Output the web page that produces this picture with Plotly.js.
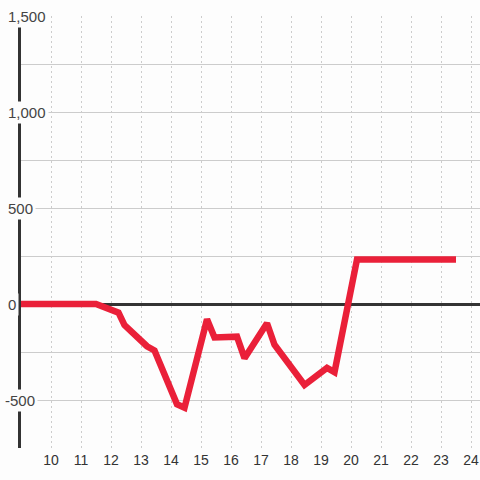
<!DOCTYPE html>
<html>
<head>
<meta charset="utf-8">
<script src="https://cdn.plot.ly/plotly-3.0.1.min.js"></script>
<style>html,body{margin:0;padding:0;background:#fdfdfd;}#chart{width:480px;height:480px;}</style>
</head>
<body>
<div id="chart"></div>
<script>
var xValues = [8.75, 11.5, 12.25, 12.45, 13.2, 13.45, 14.2, 14.45, 15.2, 15.45, 16.2, 16.45, 17.2, 17.45, 18.45, 19.2, 19.45, 20.2, 23.5];
var yValues = [0, 0, -45, -110, -220, -242, -522, -540, -80, -174, -170, -282, -100, -212, -422, -333, -355, 232, 232];
var xTickVals = [10, 11, 12, 13, 14, 15, 16, 17, 18, 19, 20, 21, 22, 23, 24];
var yTickVals = [-500, 0, 500, 1000, 1500];
var yTickText = ['-500', '0', '500', '1,000', '1,500'];

var bg = '#fdfdfd';
var annotations = yTickVals.map(function (v, i) {
  var neg = yTickText[i].charAt(0) === '-';
  return {
    xref: 'paper', yref: 'y', x: 0, y: v,
    xanchor: 'left', yanchor: 'middle',
    xshift: neg ? -19 : -16,
    text: yTickText[i], showarrow: false,
    bgcolor: bg, borderpad: 2,
    font: {family: 'Liberation Sans, Arial, sans-serif', size: 15, color: '#444'}
  };
});

var trace = {
  x: xValues, y: yValues, type: 'scatter', mode: 'lines',
  line: {color: '#ea2039', width: 6.5},
  cliponaxis: false, hoverinfo: 'skip'
};

var layout = {
  width: 480, height: 480,
  margin: {l: 21, r: 0, t: 16, b: 32},
  paper_bgcolor: bg, plot_bgcolor: bg,
  showlegend: false,
  xaxis: {
    range: [9, 24.3], tickmode: 'array', tickvals: xTickVals,
    showgrid: true, gridcolor: '#cccccc', gridwidth: 1, griddash: '2px,3px',
    zeroline: false, showline: false, ticks: '', ticklabelstandoff: 2,
    tickfont: {family: 'Liberation Sans, Arial, sans-serif', size: 14, color: '#333'},
    fixedrange: true
  },
  yaxis: {
    range: [-750, 1500], dtick: 250, tick0: 0,
    showgrid: true, gridcolor: '#cccccc', gridwidth: 1,
    zeroline: true, zerolinecolor: '#333', zerolinewidth: 3,
    showline: true, linecolor: '#333', linewidth: 3,
    showticklabels: false, ticks: '', layer: 'below traces',
    fixedrange: true
  },
  annotations: annotations
};

Plotly.newPlot('chart', [trace], layout, {displayModeBar: false, staticPlot: true});
</script>
</body>
</html>
